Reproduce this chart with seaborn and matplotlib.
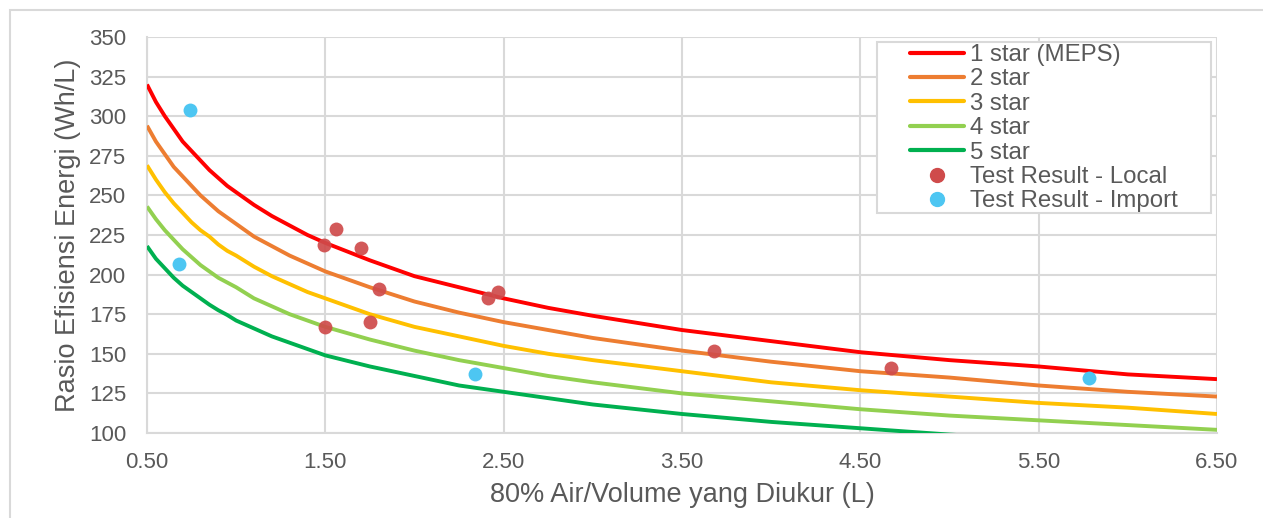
import matplotlib
matplotlib.use("Agg")
import matplotlib.pyplot as plt
import seaborn as sns
import pandas as pd
from matplotlib.patches import Rectangle
from matplotlib.lines import Line2D

# ---- data ----
volume = [0.5, 0.55, 0.6, 0.65, 0.7, 0.75, 0.8, 0.85, 0.9, 0.95, 1.0, 1.1, 1.2, 1.3, 1.4,
          1.5, 1.75, 2.0, 2.25, 2.5, 2.75, 3.0, 3.5, 4.0, 4.5, 5.0, 5.5, 6.0, 6.5]
star1 = [320, 309, 300, 292, 284, 278, 272, 266, 261, 256, 252, 244, 237, 231, 225,
         220, 209, 199, 192, 185, 179, 174, 165, 158, 151, 146, 142, 137, 134]
star2 = [294, 284, 276, 268, 262, 256, 250, 245, 240, 236, 232, 224, 218, 212, 207,
         202, 192, 183, 176, 170, 165, 160, 152, 145, 139, 135, 130, 126, 123]
star3 = [269, 260, 252, 245, 239, 233, 228, 224, 219, 215, 212, 205, 199, 194, 189,
         185, 175, 167, 161, 155, 150, 146, 139, 132, 127, 123, 119, 116, 112]
star4 = [243, 235, 228, 222, 216, 211, 206, 202, 198, 195, 192, 185, 180, 175, 171,
         167, 159, 152, 146, 141, 136, 132, 125, 120, 115, 111, 108, 105, 102]
star5 = [218, 210, 204, 198, 193, 189, 185, 181, 177.5, 174.5, 171, 166, 161, 157, 153,
         149, 142, 136, 130, 126, 122, 118, 112, 107, 103, 99, 96, 94, 91]

local_x = [1.49, 1.56, 1.70, 1.80, 1.50, 1.75, 2.41, 2.47, 3.68, 4.67]
local_y = [219, 229, 217, 191, 167, 170, 185, 189, 152, 141]
import_x = [0.74, 0.68, 2.34, 5.78]
import_y = [304, 207, 137, 135]

series_names = ["1 star (MEPS)", "2 star", "3 star", "4 star", "5 star"]
series_vals = [star1, star2, star3, star4, star5]
line_colors = ["#FF0000", "#ED7D31", "#FFC000", "#92D050", "#00B050"]
local_color = "#CF4B4B"
import_color = "#4DC6F2"

x_ticks = [0.5, 1.5, 2.5, 3.5, 4.5, 5.5, 6.5]
y_ticks = [100, 125, 150, 175, 200, 225, 250, 275, 300, 325, 350]

# ---- style ----
sns.set_theme(style="white")
plt.rcParams["font.family"] = ["Liberation Sans", "DejaVu Sans"]
txt = "#595959"
grid = "#D9D9D9"

W, H = 1263, 518
fig = plt.figure(figsize=(W / 100, H / 100), dpi=100)
ax = fig.add_axes([147 / W, 1 - 433 / H, (1217 - 147) / W, (433 - 37) / H])

# outer chart border (partially cropped in the reference)
fig.patches.append(Rectangle((10 / W, -0.05), 1.2, 1 - 10 / H + 0.05,
                             transform=fig.transFigure, fill=False,
                             edgecolor=grid, linewidth=1.5, zorder=0))

rows = []
for name, vals in zip(series_names, series_vals):
    for xv, yv in zip(volume, vals):
        rows.append({"x": xv, "y": yv, "series": name})
df = pd.DataFrame(rows)

sns.lineplot(data=df, x="x", y="y", hue="series", hue_order=series_names,
             palette=line_colors, linewidth=2.8, ax=ax, legend=False, zorder=3,
             solid_joinstyle="round", solid_capstyle="butt")

sns.scatterplot(x=local_x, y=local_y, color=local_color, s=100, alpha=0.92,
                linewidth=0, ax=ax, zorder=4, clip_on=False)
sns.scatterplot(x=import_x, y=import_y, color=import_color, s=100,
                linewidth=0, ax=ax, zorder=4, clip_on=False)

ax.set_xlim(0.5, 6.5)
ax.set_ylim(100, 350)
ax.set_xticks(x_ticks)
ax.set_xticklabels([f"{v:.2f}" for v in x_ticks])
ax.set_yticks(y_ticks)
ax.grid(True, color=grid, linewidth=1.5)
ax.set_axisbelow(True)
for s in ax.spines.values():
    s.set_visible(False)
for side in ("left", "bottom"):
    ax.spines[side].set_visible(True)
    ax.spines[side].set_color(grid)
    ax.spines[side].set_linewidth(1.5)

ax.tick_params(axis="both", length=0, labelsize=16, colors=txt)
ax.tick_params(axis="x", pad=14)
ax.tick_params(axis="y", pad=15)
ax.set_xlabel("80% Air/Volume yang Diukur (L)", fontsize=19.5, color=txt, labelpad=6)
ax.set_ylabel("Rasio Efisiensi Energi (Wh/L)", fontsize=19.5, color=txt, labelpad=6)

# legend box (frame drawn separately to match the reference padding)
frame = Rectangle((877 / W, 1 - 213 / H), (1211 - 877) / W, (213 - 42) / H,
                  transform=fig.transFigure, facecolor="white",
                  edgecolor=grid, linewidth=1.5, zorder=5, clip_on=False)
ax.add_patch(frame)

handles = [Line2D([], [], color=c, linewidth=3) for c in line_colors]
handles += [Line2D([], [], color=local_color, marker="o", linestyle="none", markersize=10),
            Line2D([], [], color=import_color, marker="o", linestyle="none", markersize=10)]
labels = series_names + ["Test Result - Local", "Test Result - Import"]
leg = ax.legend(handles, labels, loc="upper left", bbox_to_anchor=(910 / W, 1 - 44 / H),
                bbox_transform=fig.transFigure, fontsize=17.3, frameon=False,
                labelspacing=0.1, handlelength=2.25, handletextpad=0.25,
                borderpad=0, borderaxespad=0)
for t in leg.get_texts():
    t.set_color(txt)
leg.set_zorder(7)

fig.savefig("out.png", dpi=100, facecolor="white")
